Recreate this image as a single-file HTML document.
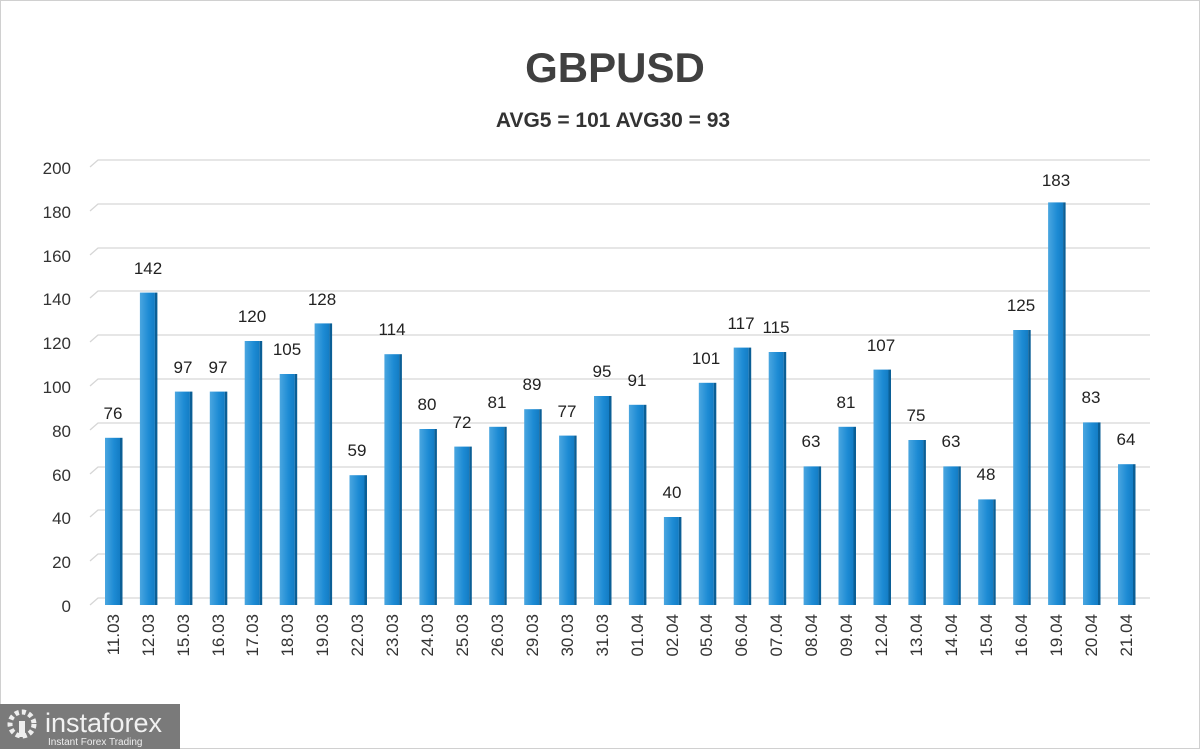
<!DOCTYPE html>
<html><head><meta charset="utf-8"><style>
body{margin:0;background:#fff}
svg{display:block}
text{font-family:"Liberation Sans","DejaVu Sans",sans-serif}
</style></head><body>
<svg width="1200" height="749" viewBox="0 0 1200 749">
<defs>
<linearGradient id="g" x1="0" x2="1" y1="0" y2="0"><stop offset="0" stop-color="#4aa6e0"/><stop offset="0.6" stop-color="#1d8bd4"/><stop offset="1" stop-color="#137cc4"/></linearGradient>
</defs>
<rect x="0.5" y="0.5" width="1199" height="748" fill="#fff" stroke="#d0d0d0"/>
<text x="615" y="82" font-size="42" font-weight="bold" text-anchor="middle" fill="#404040">GBPUSD</text>
<text x="613" y="127" font-size="21" font-weight="bold" text-anchor="middle" fill="#333">AVG5 = 101 AVG30 = 93</text>
<g stroke="#d6d6d6" stroke-width="1.3" fill="none">
<path d="M90 167 L98 160 H1150"/><path d="M90 211 L98 204 H1150"/><path d="M90 255 L98 248 H1150"/><path d="M90 298 L98 291 H1150"/><path d="M90 342 L98 335 H1150"/><path d="M90 386 L98 379 H1150"/><path d="M90 430 L98 423 H1150"/><path d="M90 474 L98 467 H1150"/><path d="M90 517 L98 510 H1150"/><path d="M90 561 L98 554 H1150"/><path d="M90 605 L98 598 H1150"/>
</g>
<g font-size="17" fill="#333" text-anchor="end">
<text x="71" y="174">200</text><text x="71" y="218">180</text><text x="71" y="262">160</text><text x="71" y="305">140</text><text x="71" y="349">120</text><text x="71" y="393">100</text><text x="71" y="437">80</text><text x="71" y="481">60</text><text x="71" y="524">40</text><text x="71" y="568">20</text><text x="71" y="612">0</text>
</g>
<g fill="url(#g)">
<rect x="105" y="437.8" width="15" height="167.2"/>
<rect x="139.9" y="292.6" width="15" height="312.4"/>
<rect x="174.9" y="391.6" width="15" height="213.4"/>
<rect x="209.8" y="391.6" width="15" height="213.4"/>
<rect x="244.7" y="341" width="15" height="264"/>
<rect x="279.7" y="374" width="15" height="231"/>
<rect x="314.6" y="323.4" width="15" height="281.6"/>
<rect x="349.5" y="475.2" width="15" height="129.8"/>
<rect x="384.4" y="354.2" width="15" height="250.8"/>
<rect x="419.4" y="429" width="15" height="176"/>
<rect x="454.3" y="446.6" width="15" height="158.4"/>
<rect x="489.2" y="426.8" width="15" height="178.2"/>
<rect x="524.2" y="409.2" width="15" height="195.8"/>
<rect x="559.1" y="435.6" width="15" height="169.4"/>
<rect x="594" y="396" width="15" height="209"/>
<rect x="628.9" y="404.8" width="15" height="200.2"/>
<rect x="663.9" y="517" width="15" height="88"/>
<rect x="698.8" y="382.8" width="15" height="222.2"/>
<rect x="733.7" y="347.6" width="15" height="257.4"/>
<rect x="768.7" y="352" width="15" height="253"/>
<rect x="803.6" y="466.4" width="15" height="138.6"/>
<rect x="838.5" y="426.8" width="15" height="178.2"/>
<rect x="873.5" y="369.6" width="15" height="235.4"/>
<rect x="908.4" y="440" width="15" height="165"/>
<rect x="943.3" y="466.4" width="15" height="138.6"/>
<rect x="978.2" y="499.4" width="15" height="105.6"/>
<rect x="1013.2" y="330" width="15" height="275"/>
<rect x="1048.1" y="202.4" width="15" height="402.6"/>
<rect x="1083" y="422.4" width="15" height="182.6"/>
<rect x="1118" y="464.2" width="15" height="140.8"/>
</g>
<g fill="#0b5f96">
<rect x="120" y="437.8" width="2.5" height="167.2"/><rect x="154.9" y="292.6" width="2.5" height="312.4"/><rect x="189.9" y="391.6" width="2.5" height="213.4"/><rect x="224.8" y="391.6" width="2.5" height="213.4"/><rect x="259.7" y="341" width="2.5" height="264"/><rect x="294.7" y="374" width="2.5" height="231"/><rect x="329.6" y="323.4" width="2.5" height="281.6"/><rect x="364.5" y="475.2" width="2.5" height="129.8"/><rect x="399.4" y="354.2" width="2.5" height="250.8"/><rect x="434.4" y="429" width="2.5" height="176"/><rect x="469.3" y="446.6" width="2.5" height="158.4"/><rect x="504.2" y="426.8" width="2.5" height="178.2"/><rect x="539.2" y="409.2" width="2.5" height="195.8"/><rect x="574.1" y="435.6" width="2.5" height="169.4"/><rect x="609" y="396" width="2.5" height="209"/><rect x="643.9" y="404.8" width="2.5" height="200.2"/><rect x="678.9" y="517" width="2.5" height="88"/><rect x="713.8" y="382.8" width="2.5" height="222.2"/><rect x="748.7" y="347.6" width="2.5" height="257.4"/><rect x="783.7" y="352" width="2.5" height="253"/><rect x="818.6" y="466.4" width="2.5" height="138.6"/><rect x="853.5" y="426.8" width="2.5" height="178.2"/><rect x="888.5" y="369.6" width="2.5" height="235.4"/><rect x="923.4" y="440" width="2.5" height="165"/><rect x="958.3" y="466.4" width="2.5" height="138.6"/><rect x="993.2" y="499.4" width="2.5" height="105.6"/><rect x="1028.2" y="330" width="2.5" height="275"/><rect x="1063.1" y="202.4" width="2.5" height="402.6"/><rect x="1098" y="422.4" width="2.5" height="182.6"/><rect x="1133" y="464.2" width="2.5" height="140.8"/>
</g>
<g font-size="17" fill="#222" text-anchor="middle">
<text x="113" y="419">76</text><text x="148" y="274">142</text><text x="183" y="373">97</text><text x="218" y="373">97</text><text x="252" y="322">120</text><text x="287" y="355">105</text><text x="322" y="305">128</text><text x="357" y="456">59</text><text x="392" y="335">114</text><text x="427" y="410">80</text><text x="462" y="428">72</text><text x="497" y="408">81</text><text x="532" y="390">89</text><text x="567" y="417">77</text><text x="602" y="377">95</text><text x="637" y="386">91</text><text x="672" y="498">40</text><text x="706" y="364">101</text><text x="741" y="329">117</text><text x="776" y="333">115</text><text x="811" y="447">63</text><text x="846" y="408">81</text><text x="881" y="351">107</text><text x="916" y="421">75</text><text x="951" y="447">63</text><text x="986" y="480">48</text><text x="1021" y="311">125</text><text x="1056" y="186">183</text><text x="1091" y="403">83</text><text x="1126" y="445">64</text>
</g>
<g font-size="17" fill="#333" text-anchor="end">
<text transform="translate(119,614) rotate(-90)">11.03</text><text transform="translate(154,614) rotate(-90)">12.03</text><text transform="translate(189,614) rotate(-90)">15.03</text><text transform="translate(224,614) rotate(-90)">16.03</text><text transform="translate(258,614) rotate(-90)">17.03</text><text transform="translate(293,614) rotate(-90)">18.03</text><text transform="translate(328,614) rotate(-90)">19.03</text><text transform="translate(363,614) rotate(-90)">22.03</text><text transform="translate(398,614) rotate(-90)">23.03</text><text transform="translate(433,614) rotate(-90)">24.03</text><text transform="translate(468,614) rotate(-90)">25.03</text><text transform="translate(503,614) rotate(-90)">26.03</text><text transform="translate(538,614) rotate(-90)">29.03</text><text transform="translate(573,614) rotate(-90)">30.03</text><text transform="translate(608,614) rotate(-90)">31.03</text><text transform="translate(643,614) rotate(-90)">01.04</text><text transform="translate(678,614) rotate(-90)">02.04</text><text transform="translate(712,614) rotate(-90)">05.04</text><text transform="translate(747,614) rotate(-90)">06.04</text><text transform="translate(782,614) rotate(-90)">07.04</text><text transform="translate(817,614) rotate(-90)">08.04</text><text transform="translate(852,614) rotate(-90)">09.04</text><text transform="translate(887,614) rotate(-90)">12.04</text><text transform="translate(922,614) rotate(-90)">13.04</text><text transform="translate(957,614) rotate(-90)">14.04</text><text transform="translate(992,614) rotate(-90)">15.04</text><text transform="translate(1027,614) rotate(-90)">16.04</text><text transform="translate(1062,614) rotate(-90)">19.04</text><text transform="translate(1097,614) rotate(-90)">20.04</text><text transform="translate(1132,614) rotate(-90)">21.04</text>
</g>
<rect x="0" y="704" width="180" height="45" fill="#7a7a7a"/>
<circle cx="22" cy="724" r="12" fill="none" stroke="#eee" stroke-width="5" stroke-dasharray="4 3"/>
<rect x="19" y="721" width="6" height="16" fill="#eee"/>
<text x="45" y="732" font-size="27" fill="#f2f2f2">instaforex</text>
<text x="48" y="745" font-size="10" fill="#eee">Instant Forex Trading</text>
</svg>
</body></html>
